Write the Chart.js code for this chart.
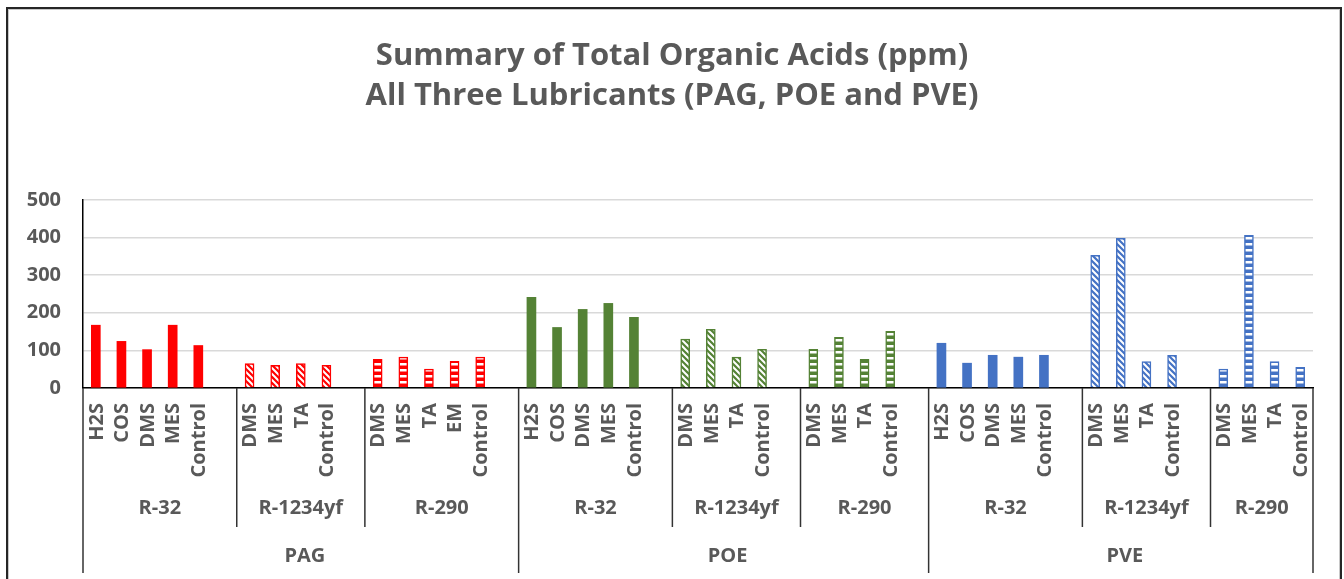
<!DOCTYPE html>
<html>
<head>
<meta charset="utf-8">
<script src="https://cdn.jsdelivr.net/npm/chart.js@4.4.1/dist/chart.umd.min.js"></script>
<style>
  html, body { margin: 0; padding: 0; background: #fff; overflow: hidden; }
  #wrap { position: absolute; left: 0; top: 0; width: 1344px; height: 579px; }
  #frame {
    position: absolute; left: 6px; top: 7px; width: 1336px; height: 640px;
    box-sizing: border-box; border: 2px solid #262626;
    box-shadow: inset 0 0 0 1px #c8c8c8; pointer-events: none;
  }
</style>
</head>
<body>
<div id="wrap"><canvas id="acidChart"></canvas></div>
<div id="frame"></div>
<script>
// Lubricants and refrigerants on the two outer axis rows
const lubricants = ['PAG', 'POE', 'PVE'];
const refrigerants = ['R-32', 'R-1234yf', 'R-290'];

// Additive labels per lubricant / refrigerant block
const pagR32Labels = ['H2S', 'COS', 'DMS', 'MES', 'Control'];
const pagR1234yfLabels = ['DMS', 'MES', 'TA', 'Control'];
const pagR290Labels = ['DMS', 'MES', 'TA', 'EM', 'Control'];
const poeR32Labels = ['H2S', 'COS', 'DMS', 'MES', 'Control'];
const poeR1234yfLabels = ['DMS', 'MES', 'TA', 'Control'];
const poeR290Labels = ['DMS', 'MES', 'TA', 'Control'];
const pveR32Labels = ['H2S', 'COS', 'DMS', 'MES', 'Control'];
const pveR1234yfLabels = ['DMS', 'MES', 'TA', 'Control'];
const pveR290Labels = ['DMS', 'MES', 'TA', 'Control'];

// Total organic acids, ppm
const pagR32Values = [167, 124, 102, 167, 113];
const pagR1234yfValues = [65, 60, 65, 60];
const pagR290Values = [76, 82, 50, 71, 82];
const poeR32Values = [241, 161, 209, 225, 188];
const poeR1234yfValues = [130, 156, 82, 103];
const poeR290Values = [103, 135, 76, 151];
const pveR32Values = [119, 66, 87, 82, 87];
const pveR1234yfValues = [353, 398, 70, 87];
const pveR290Values = [50, 406, 70, 55];

const yTicks = [0, 100, 200, 300, 400, 500];

const lubeColors = { PAG: '#FF0000', POE: '#548235', PVE: '#4472C4' };
const TEXT = '#595959';
const FONT = '"Open Sans"';

const blocks = [
  { lube: 'PAG', ref: 'R-32', labels: pagR32Labels, values: pagR32Values },
  { lube: 'PAG', ref: 'R-1234yf', labels: pagR1234yfLabels, values: pagR1234yfValues },
  { lube: 'PAG', ref: 'R-290', labels: pagR290Labels, values: pagR290Values },
  { lube: 'POE', ref: 'R-32', labels: poeR32Labels, values: poeR32Values },
  { lube: 'POE', ref: 'R-1234yf', labels: poeR1234yfLabels, values: poeR1234yfValues },
  { lube: 'POE', ref: 'R-290', labels: poeR290Labels, values: poeR290Values },
  { lube: 'PVE', ref: 'R-32', labels: pveR32Labels, values: pveR32Values },
  { lube: 'PVE', ref: 'R-1234yf', labels: pveR1234yfLabels, values: pveR1234yfValues },
  { lube: 'PVE', ref: 'R-290', labels: pveR290Labels, values: pveR290Values }
];

// Hatch fills: diagonal for R-1234yf, ladder for R-290
function diagPattern(color) {
  const c = document.createElement('canvas');
  c.width = 6; c.height = 6;
  const g = c.getContext('2d');
  g.fillStyle = color; g.fillRect(0, 0, 6, 6);
  g.strokeStyle = '#fff'; g.lineWidth = 2;
  g.beginPath();
  g.moveTo(-1, -1); g.lineTo(7, 7);
  g.moveTo(-4, 2); g.lineTo(4, 10);
  g.moveTo(2, -4); g.lineTo(10, 4);
  g.stroke();
  return g.createPattern(c, 'repeat');
}
function ladderPattern(color) {
  const c = document.createElement('canvas');
  c.width = 4; c.height = 6;
  const g = c.getContext('2d');
  g.fillStyle = color; g.fillRect(0, 0, 4, 6);
  g.fillStyle = '#fff'; g.fillRect(0, 3, 4, 2.5);
  return g.createPattern(c, 'repeat');
}

// Flatten blocks into slots; each block but the last is followed by an empty slot
const categories = [];
const values = [];
const fills = [];
const borders = [];
const borderWidths = [];
blocks.forEach((b, bi) => {
  b.start = categories.length;
  const color = lubeColors[b.lube];
  b.labels.forEach((lab, i) => {
    categories.push(lab);
    values.push(b.values[i]);
    if (b.ref === 'R-32') { fills.push(color); borderWidths.push(0); }
    else if (b.ref === 'R-1234yf') { fills.push(diagPattern(color)); borderWidths.push(1.5); }
    else { fills.push(ladderPattern(color)); borderWidths.push(1.5); }
    borders.push(color);
  });
  if (bi < blocks.length - 1) {
    categories.push(''); values.push(null);
    fills.push('#fff'); borders.push('#fff'); borderWidths.push(0);
  }
  b.end = categories.length; // exclusive
});

// Draws the three-row category axis under the plot
const groupAxis = {
  id: 'groupAxis',
  afterDraw(chart) {
    const { ctx, chartArea, scales: { x } } = chart;
    const half = (x.getPixelForValue(1) - x.getPixelForValue(0)) / 2;
    const base = chartArea.bottom;
    ctx.save();
    ctx.fillStyle = TEXT;

    ctx.font = 'bold 20px ' + FONT;
    ctx.textAlign = 'right';
    ctx.textBaseline = 'middle';
    categories.forEach((lab, i) => {
      if (!lab) return;
      ctx.save();
      ctx.translate(x.getPixelForValue(i) + 1, base + 15);
      ctx.rotate(-Math.PI / 2);
      ctx.fillText(lab, 0, 0);
      ctx.restore();
    });

    ctx.strokeStyle = '#333';
    ctx.lineWidth = 1.5;
    ctx.textAlign = 'center';
    ctx.font = 'bold 20px ' + FONT;
    blocks.forEach((b, bi) => {
      const left = x.getPixelForValue(b.start) - half;
      const right = x.getPixelForValue(b.end - 1) + half;
      const firstOfLube = bi === 0 || blocks[bi - 1].lube !== b.lube;
      ctx.beginPath();
      ctx.moveTo(left, base);
      ctx.lineTo(left, base + (firstOfLube ? 185 : 139));
      ctx.stroke();
      ctx.fillText(b.ref, (left + right) / 2, base + 120);
    });
    const lastRight = x.getPixelForValue(categories.length - 1) + half;
    ctx.beginPath();
    ctx.moveTo(lastRight, base);
    ctx.lineTo(lastRight, base + 185);
    ctx.stroke();

    lubricants.forEach(l => {
      const own = blocks.filter(b => b.lube === l);
      const left = x.getPixelForValue(own[0].start) - half;
      const right = x.getPixelForValue(own[own.length - 1].end - 1) + half;
      ctx.fillText(l, (left + right) / 2 + 4, base + 168);
    });
    ctx.restore();
  }
};

new Chart(document.getElementById('acidChart'), {
  type: 'bar',
  data: {
    labels: categories,
    datasets: [{
      data: values,
      backgroundColor: fills,
      borderColor: borders,
      borderWidth: borderWidths,
      barThickness: 9
    }]
  },
  options: {
    responsive: true,
    maintainAspectRatio: false,
    animation: false,
    layout: { padding: 0 },
    plugins: {
      legend: { display: false },
      tooltip: { enabled: false },
      title: {
        display: true,
        text: ['Summary of Total Organic Acids (ppm)', 'All Three Lubricants (PAG, POE and PVE)'],
        color: TEXT,
        font: { family: FONT, size: 31, weight: 'bold', lineHeight: 1.29 },
        padding: { top: 36, bottom: 84 }
      }
    },
    scales: {
      x: {
        grid: { display: false },
        ticks: { display: false },
        border: { display: true, color: '#000', width: 1.5 },
        afterFit(s) { s.height = 191; }
      },
      y: {
        min: yTicks[0],
        max: yTicks[yTicks.length - 1],
        afterBuildTicks(s) { s.ticks = yTicks.map(v => ({ value: v })); },
        ticks: {
          color: TEXT,
          padding: 22,
          font: { family: FONT, size: 20, weight: 'bold' }
        },
        grid: { color: '#d9d9d9', lineWidth: 1.5, drawTicks: false },
        border: { display: true, color: '#000', width: 1.5 },
        afterFit(s) { s.width = 83; }
      },
      // empty right-hand margin so the title stays centred on the page
      yRight: {
        position: 'right',
        min: yTicks[0],
        max: yTicks[yTicks.length - 1],
        grid: { display: false },
        ticks: { display: false },
        border: { display: false },
        afterFit(s) { s.width = 31; }
      }
    }
  },
  plugins: [groupAxis]
});
</script>
</body>
</html>
